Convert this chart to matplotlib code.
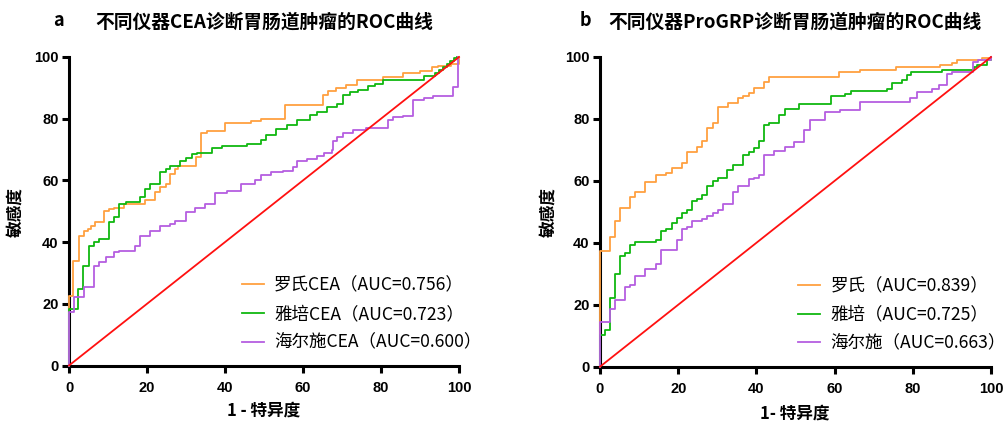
import matplotlib
matplotlib.use("Agg")
import matplotlib.pyplot as plt

plt.rcParams['font.family'] = ['Noto Sans CJK SC', 'DejaVu Sans']

# ---------------- data ----------------
# Panel a: CEA
a_roche_x = [0, 1.0, 2.6, 3.9, 4.8, 5.6, 6.6, 9.0, 10.3, 11.6, 14.2, 19.4, 22, 23.3, 24.8, 25.9,
             27.2, 28.0, 32.6, 33.8, 35.3, 40.1, 46.6, 49.3, 55.5, 65, 66.3, 68.5, 71, 73.8, 80.5,
             85.6, 90, 93, 94.7, 98, 100]
a_roche_y = [22.6, 33.8, 41.9, 43.5, 44.2, 45.3, 46.4, 50.2, 50.7, 51.2, 52.3, 53.6, 56.1, 57.7,
             58.8, 62, 63.6, 64.7, 67.6, 75.5, 76, 78.7, 79.2, 80, 84.6, 87.8, 89.1, 89.8, 91,
             92.4, 93.6, 94.7, 95.5, 96.6, 97.1, 97.8, 100]

a_yapei_x = [0, 2.4, 3.6, 5.2, 6.5, 7.8, 10.2, 11.6, 12.9, 14.5, 18.1, 19.4, 20.7, 23.3, 24.8,
             25.9, 28.4, 30, 31.5, 32.8, 36.6, 39.2, 45.7, 49.3, 50.4, 53.2, 55.8, 58.4, 61.8,
             63.5, 66.1, 68.6, 70.3, 72, 74.2, 76.7, 78.5, 80.6, 90.9, 93.9, 94.8, 95.8, 96.8,
             97.8, 98.8, 99.6]
a_yapei_y = [18.3, 24.8, 32.1, 38.8, 39.9, 41, 46.4, 48, 52.3, 52.9, 54.5, 57.2, 58.8, 62.6, 63.6,
             64.7, 66.3, 67.4, 68.5, 69, 70.4, 71.2, 71.7, 73, 74.6, 76.8, 77.9, 79.5, 81.1, 82.2,
             83.8, 84.9, 87.6, 88.7, 89.4, 90.5, 91.4, 92.4, 93.8, 94.8, 95.8, 96.8, 97.8, 98.8,
             99.6, 100]

a_haier_x = [0, 1.3, 3.9, 6.5, 7.8, 9.5, 11.6, 12.9, 16.8, 18.1, 20.7, 23.3, 25.9, 27.2, 30, 32.3,
             34.9, 37.5, 40.5, 44, 47.6, 49.3, 51.9, 54.9, 57.5, 58.4, 61, 63.5, 65.5, 67.4, 67.6,
             68.6, 70.2, 72.7, 76.2, 81.7, 83, 85.6, 88.1, 91.1, 93.3, 98.5, 99.8]
a_haier_y = [17.3, 22.1, 25.4, 32.4, 33.4, 35.1, 36.7, 37.2, 38.6, 42.1, 43.7, 45.3, 45.8, 46.9,
             49.9, 51.2, 52.3, 55.8, 56.6, 58.8, 60.2, 61.6, 62.7, 63.2, 64.3, 66.2, 67, 68, 69,
             69.7, 72.9, 74.2, 75.4, 76.3, 77, 79.7, 80.5, 81, 85.9, 86.8, 87.5, 90.2, 100]

# Panel b: ProGRP
b_roche_x = [0, 2.6, 3.9, 5.2, 7.7, 9, 11.6, 14.4, 17, 18.3, 20.9, 22.2, 24.8, 26.1, 27.4, 29,
             30.2, 32.8, 35.4, 36.7, 38.2, 39.4, 42, 43.3, 61.2, 66.4, 75.8, 87, 90, 91.3, 97.8, 100]
b_roche_y = [37.5, 41.8, 47, 51.3, 54.9, 56.4, 59.6, 61.8, 62.4, 64.3, 65.9, 69.3, 71.1, 72.9,
             77.2, 78.8, 84, 85, 86.9, 87.5, 88.5, 89.9, 91.8, 93.6, 95, 95.9, 96.7, 97.5, 98,
             98.9, 99.7, 100]

b_yapei_x = [0, 1.3, 2.6, 3.9, 5.2, 6.5, 7.7, 9, 14.4, 15.6, 17, 18.3, 19.6, 20.9, 22.2, 23.5,
             24.8, 26.1, 27.4, 29, 30.2, 32.6, 34.1, 36.7, 38.2, 39.4, 40.7, 42, 43.3, 45.9, 47.2,
             51, 59, 62.6, 64.1, 73.3, 74.6, 77.2, 78.5, 79.6, 87.5, 95.7, 96.5, 99, 100]
b_yapei_y = [10.2, 11.9, 22.1, 29.9, 35.8, 36.8, 39.3, 40.3, 41, 43.7, 44.4, 46.4, 48, 49.6, 50.5,
             53.4, 54.2, 55.6, 58.5, 59.9, 61, 63.5, 65.1, 68.5, 69.4, 70.5, 72.9, 77.9, 78.8,
             81.3, 83.1, 84.8, 87.3, 88.2, 88.9, 89.8, 91.6, 92.7, 94.1, 95.1, 95.9, 96.8, 97.5,
             98.9, 100]

b_haier_x = [0, 2.6, 3.9, 6.5, 7.7, 9, 11.6, 14.4, 15.6, 19.6, 20.9, 22.2, 23.5, 26.1, 27.4, 29,
             30.2, 31.5, 34.1, 35.4, 38.2, 39.4, 40.7, 42, 44.6, 47.2, 49.7, 52.3, 53.6, 57.5,
             61.4, 66.6, 79.4, 81.1, 85, 86.7, 88.8, 90.1, 95.3, 96.6, 100]
b_haier_y = [14.3, 18.6, 21.4, 25.7, 26.5, 29.2, 31.5, 33.3, 37.6, 41, 44.5, 45, 47, 47.7, 48.6,
             49.5, 50.5, 52.4, 56.5, 58.3, 60.5, 61, 61.8, 68.3, 69.6, 71, 72.6, 76.3, 79.5, 82.1,
             83, 85.4, 86.6, 88.7, 89.8, 90.9, 94.6, 95.1, 98.3, 99, 100]

labels_a = ['罗氏CEA（AUC=0.756）', '雅培CEA（AUC=0.723）', '海尔施CEA（AUC=0.600）']
labels_b = ['罗氏（AUC=0.839）', '雅培（AUC=0.725）', '海尔施（AUC=0.663）']
titles = ['不同仪器CEA诊断胃肠道肿瘤的ROC曲线', '不同仪器ProGRP诊断胃肠道肿瘤的ROC曲线']
panel_letters = ['a', 'b']
xlabels = ['1 - 特异度', '1- 特异度']
ylabel = '敏感度'
ticks = [0, 20, 40, 60, 80, 100]

colors = ['#FFA040', '#10B810', '#B55EE0']
ref_color = '#FF1010'

# ---------------- figure ----------------
fig = plt.figure(figsize=(10.05, 4.21), dpi=100)
ax_a = fig.add_axes([69/1005, 55.5/421, 390/1005, 308.5/421])
ax_b = fig.add_axes([600/1005, 54.3/421, 391/1005, 309.7/421])

panels = [
    (ax_a, [(a_roche_x, a_roche_y), (a_yapei_x, a_yapei_y), (a_haier_x, a_haier_y)], labels_a, 0.443),
    (ax_b, [(b_roche_x, b_roche_y), (b_yapei_x, b_yapei_y), (b_haier_x, b_haier_y)], labels_b, 0.506),
]

tickfont = {'family': 'Liberation Sans', 'weight': 'bold', 'size': 10.5}

for i, (ax, series, labs, lx) in enumerate(panels):
    handles = []
    for (xs, ys), c, lab in zip(series, colors, labs):
        xx = [0] + list(xs)
        yy = [0] + list(ys)
        h, = ax.plot(xx, yy, drawstyle='steps-post', color=c, lw=1.3, label=lab, zorder=3,
                     clip_on=False)
        handles.append(h)
    ax.plot([0, 100], [0, 100], color=ref_color, lw=1.3, zorder=4, clip_on=False)
    ax.set_xlim(0, 100)
    ax.set_ylim(0, 100)
    ax.set_xticks(ticks)
    ax.set_yticks(ticks)
    for s in ['top', 'right']:
        ax.spines[s].set_visible(False)
    for s in ['left', 'bottom']:
        ax.spines[s].set_linewidth(2.2)
    ax.tick_params(axis='both', direction='out', length=5, width=2.2)
    ax.tick_params(axis='x', pad=6)
    ax.tick_params(axis='y', pad=2.5)
    for lbl in ax.get_xticklabels() + ax.get_yticklabels():
        lbl.set_fontproperties(tickfont)
    leg = ax.legend(handles=handles, loc='upper left', bbox_to_anchor=(lx, 0.29),
                    frameon=False, fontsize=12.6, handlelength=1.25, handletextpad=0.6,
                    labelspacing=0.62, borderpad=0, borderaxespad=0)

# titles, labels
fig.text(264/1005, 1 - 22/421, titles[0], ha='center', va='center', fontsize=13.5, fontweight='bold')
fig.text(795/1005, 1 - 22/421, titles[1], ha='center', va='center', fontsize=13.5, fontweight='bold')
fig.text(58/1005, 1 - 20/421, panel_letters[0], ha='center', va='center', fontsize=13, fontweight='bold')
fig.text(585/1005, 1 - 20/421, panel_letters[1], ha='center', va='center', fontsize=13, fontweight='bold')
fig.text(264/1005, 1 - 411/421, xlabels[0], ha='center', va='center', fontsize=12, fontweight='bold')
fig.text(795/1005, 1 - 414/421, xlabels[1], ha='center', va='center', fontsize=12, fontweight='bold')
fig.text(15/1005, 1 - 212/421, ylabel, ha='center', va='center', fontsize=12, fontweight='bold', rotation=90)
fig.text(548/1005, 1 - 212/421, ylabel, ha='center', va='center', fontsize=12, fontweight='bold', rotation=90)

fig.savefig('out.png', dpi=100)
